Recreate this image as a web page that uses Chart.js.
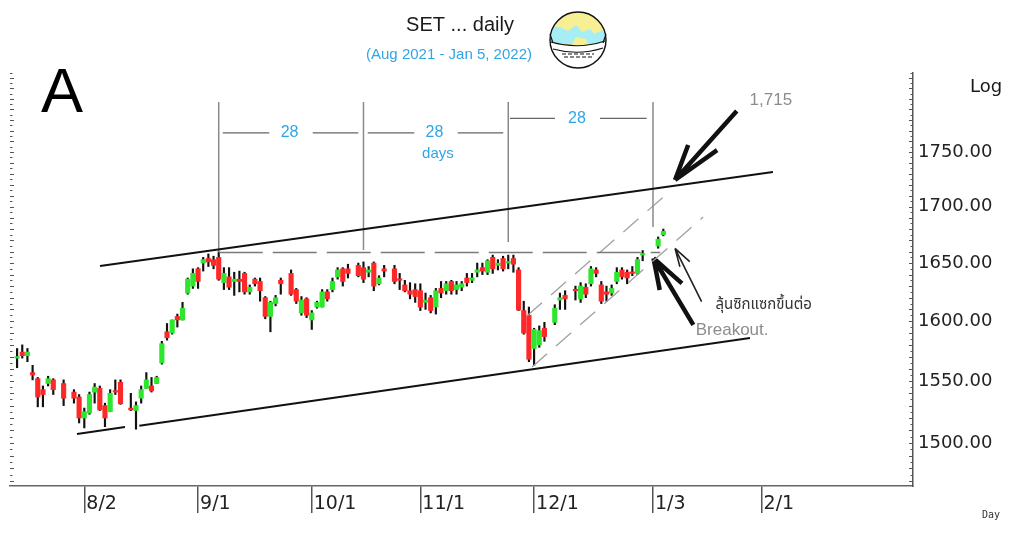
<!DOCTYPE html>
<html><head><meta charset="utf-8">
<script src="https://cdn.jsdelivr.net/npm/chart.js@4.4.1/dist/chart.umd.min.js"></script>
<style>html,body{margin:0;padding:0;background:#fff;}#wrap{width:1024px;height:533px;}</style>
</head><body><div id="wrap"><canvas id="c" width="1024" height="533"></canvas></div>
<script>
// ---------- DATA ----------
const dates = ["2021-07-14","2021-07-15","2021-07-16","2021-07-19","2021-07-20","2021-07-21","2021-07-22","2021-07-23","2021-07-27","2021-07-29","2021-07-30",
"2021-08-02","2021-08-03","2021-08-04","2021-08-05","2021-08-06","2021-08-09","2021-08-10","2021-08-11","2021-08-13","2021-08-16","2021-08-17","2021-08-18","2021-08-19","2021-08-20","2021-08-23","2021-08-24","2021-08-25","2021-08-26","2021-08-27","2021-08-30","2021-08-31",
"2021-09-01","2021-09-02","2021-09-03","2021-09-06","2021-09-07","2021-09-08","2021-09-09","2021-09-10","2021-09-13","2021-09-14","2021-09-15","2021-09-16","2021-09-17","2021-09-20","2021-09-21","2021-09-22","2021-09-23","2021-09-27","2021-09-28","2021-09-29","2021-09-30",
"2021-10-01","2021-10-04","2021-10-05","2021-10-06","2021-10-07","2021-10-08","2021-10-11","2021-10-12","2021-10-14","2021-10-15","2021-10-18","2021-10-19","2021-10-20","2021-10-21","2021-10-25","2021-10-26","2021-10-27","2021-10-28","2021-10-29",
"2021-11-01","2021-11-02","2021-11-03","2021-11-04","2021-11-05","2021-11-08","2021-11-09","2021-11-10","2021-11-11","2021-11-12","2021-11-15","2021-11-16","2021-11-17","2021-11-18","2021-11-19","2021-11-22","2021-11-23","2021-11-24","2021-11-25","2021-11-26","2021-11-29","2021-11-30",
"2021-12-01","2021-12-02","2021-12-03","2021-12-07","2021-12-08","2021-12-09","2021-12-13","2021-12-14","2021-12-15","2021-12-16","2021-12-17","2021-12-20","2021-12-21","2021-12-22","2021-12-23","2021-12-24","2021-12-27","2021-12-28","2021-12-29","2021-12-30",
"2022-01-04","2022-01-05"];
const opens = [1569,1574,1571,1557,1552,1543,1548,1551,1548,1541,1537,
1520,1524,1541,1544,1530,1525,1542,1549,1528,1526,1536,1544,1546,1548,1565,1591,1590,1604,1601,1624,1630,
1645,1650,1654,1653,1655,1633,1638,1634,1636,1641,1625,1636,1634,1620,1604,1615,1635,1641,1627,1607,1619,
1601,1612,1612,1625,1627,1638,1645,1645,1648,1646,1642,1650,1632,1645,1645,1636,1631,1626,1627,
1626,1616,1620,1612,1628,1626,1634,1627,1629,1637,1635,1642,1646,1642,1655,1648,1654,1650,1654,1644,1609,1605,
1577,1580,1594,1599,1618,1622,1627,1619,1629,1632,1644,1631,1625,1624,1634,1644,1642,1642,1641,1657,
1665,1675];
const highs = [1577,1580,1577,1563,1553,1546,1554,1552,1551,1543,1539,
1528,1541,1548,1546,1532,1543,1551,1551,1540,1533,1546,1557,1553,1554,1583,1598,1601,1606,1616,1637,1645,
1646,1655,1658,1656,1660,1646,1646,1642,1643,1642,1631,1637,1637,1621,1617,1622,1637,1644,1628,1621,1620,
1609,1617,1627,1627,1637,1646,1646,1649,1650,1651,1647,1651,1639,1648,1648,1641,1635,1633,1632,
1632,1624,1622,1628,1634,1634,1635,1634,1634,1641,1641,1650,1650,1653,1657,1653,1656,1657,1657,1646,1617,1612,
1594,1596,1599,1614,1624,1626,1630,1633,1632,1647,1646,1634,1630,1631,1646,1646,1644,1647,1655,1661,
1673,1680];
const lows = [1561,1569,1566,1551,1529,1529,1546,1539,1530,1532,1516,
1512,1523,1532,1526,1513,1525,1539,1531,1526,1511,1532,1544,1541,1548,1564,1584,1589,1595,1601,1623,1628,
1628,1643,1647,1645,1635,1627,1627,1622,1625,1623,1623,1630,1617,1602,1591,1613,1623,1622,1615,1605,1603,
1593,1611,1612,1617,1625,1636,1630,1637,1638,1633,1638,1626,1631,1638,1632,1627,1625,1619,1616,
1609,1610,1607,1606,1620,1623,1623,1623,1626,1630,1633,1638,1640,1640,1641,1644,1643,1645,1642,1609,1589,1566,
1563,1578,1583,1597,1610,1610,1618,1616,1620,1630,1638,1615,1617,1622,1632,1636,1632,1639,1640,1652,
1663,1674];
const closes = [1569.6,1571,1574,1555,1537,1539,1552,1543,1536,1536,1520,
1525,1539,1545,1526.5,1520,1540,1541,1531.5,1526.5,1530,1543,1551,1542,1553,1581,1586,1601,1601,1611,1636,1641,
1634,1653,1651,1648,1636,1641,1629,1636,1634,1625,1629,1632,1626,1604,1616,1620,1632,1623,1617,1618,1605,
1607,1616,1625,1619,1634,1644,1634,1641,1639,1636,1644,1630,1637,1643,1634,1635,1626,1623,1621,
1612,1618,1609,1626,1624,1632,1626,1631,1632,1633,1637,1644,1643,1652,1645,1650,1645,1651,1649,1609.5,1590,1568,
1593,1592,1587,1611,1620,1619,1626,1630,1623,1645,1641,1617,1623,1628,1642,1638,1637,1641,1653,1658,
1671,1678];

const tickDates  = ["2021-08-02","2021-09-01","2021-10-01","2021-11-01","2021-12-01","2022-01-03","2022-02-01"];
const tickLabels = ["8/2","9/1","10/1","11/1","12/1","1/3","2/1"];
const yTickValues = [1500,1550,1600,1650,1700,1750];

// annotation geometry in data units: [weekday index, index value]
const upperChannel = [[3.04,1647.4],[133.2,1731.5]];
const lowerChannelA = [[-1.41,1507.2],[7.87,1512.8]];
const lowerChannelB = [[10.64,1513.8],[128.76,1585.8]];
const resistance = [[26,1659.3],[111.4,1659.3]];
const verticals = [[26,1796.9,1660],[54,1796.9,1661.5],[82,1796.9,1668.5],[110,1796.9,1681.8]];
const spanSegments = [[26.77,35.78,1767.9],[44.18,53.0,1767.9],[54.82,63.83,1767.9],[72.22,81.04,1767.9],[82.34,91.04,1781.5],[99.75,108.78,1781.5]];
const risingUpper = [[85.6,1604.4],[112.9,1712.4]];
const risingLower = [[86.6,1561.6],[119.7,1690.7]];
const arrowTarget   = {tail:[126.2,1788.4], tip:[114.26,1724.2], barbs:[[116.8,1756.5],[122.4,1751.8]]};
const arrowBreakout = {tail:[117.8,1596.8], tip:[110.1,1654.2], barbs:[[111.3,1626.6],[115.6,1632.4]]};
const arrowThin     = {tail:[119.4,1616.6], tip:[114.26,1662.9], barbs:[[115.2,1646.8],[117.1,1651.2]]};
const notes = [
  {x:132.8, y:1798.8, text:"1,715", kind:"gray"},
  {x:131.4, y:1612.9, text:"ลุ้นซิกแซกขึ้นต่อ", kind:"thai"},
  {x:125.3, y:1592.5, text:"Breakout.", kind:"gray"},
  {x:39.7, y:1767.9, text:"28", kind:"blue"},
  {x:67.74, y:1767.9, text:"28", kind:"blue"},
  {x:68.4, y:1748.1, text:"days", kind:"blueSmall"},
  {x:95.3, y:1781.5, text:"28", kind:"blue"}
];

// ---------- helpers ----------
function weekdayIndex(s){
  const [Y,M,D] = s.split('-').map(Number);
  const days = Math.round((Date.UTC(Y,M-1,D) - Date.UTC(2021,7,2))/86400000);
  const w = Math.floor(days/7); const r = days - 7*w;
  return w*5 + Math.min(r,5);
}
const xs = dates.map(weekdayIndex);
const tickIdx = tickDates.map(weekdayIndex);
const PX_PER_DAY = 5.17;
const xMin = -74.3/PX_PER_DAY;
const xMax = xMin + 903/PX_PER_DAY;
const yMin = 1466.2, yMax = 1824.8;

const UP = '#2ee62e', DOWN = '#ff2828';
const bodyColors = opens.map((o,i)=> closes[i] >= o ? UP : DOWN);

function pts(arr){ return arr.map(p=>({x:p[0], y:p[1]})); }
function lineDs(data, color, width, dash){
  return {type:'line', data, borderColor:color, borderWidth:width, borderDash:dash||[], pointRadius:0,
          fill:false, spanGaps:false, tension:0, order:1, clip:false, borderCapStyle:'butt'};
}
function segs(list){
  const out=[]; list.forEach((s,i)=>{ if(i) out.push({x:s[0][0], y:null}); out.push({x:s[0][0],y:s[0][1]},{x:s[1][0],y:s[1][1]}); }); return out;
}
function arrowData(a){
  return segs([[a.tail,a.tip],[a.barbs[0],a.tip],[a.tip,a.barbs[1]]]);
}

const datasets = [
  {type:'bar', data: xs.map((x,i)=>({x, y:[lows[i], highs[i]]})), backgroundColor:'#111', barThickness:1.5, grouped:false, order:3, minBarLength:1},
  {type:'bar', data: xs.map((x,i)=>({x, y:[opens[i], closes[i]]})), backgroundColor:bodyColors, barThickness:4.5, grouped:false, order:2, minBarLength:1.5},
  lineDs(pts(upperChannel), '#111', 2),
  lineDs(pts(lowerChannelA), '#111', 2),
  lineDs(pts(lowerChannelB), '#111', 2),
  lineDs(pts(resistance), '#7a7a7a', 1.6, [44,10]),
  lineDs(segs(verticals.map(v=>[[v[0],v[1]],[v[0],v[2]]])), '#8a8a8a', 1.5),
  lineDs(segs(spanSegments.map(s=>[[s[0],s[2]],[s[1],s[2]]])), '#666', 1.3),
  lineDs(pts(risingUpper), '#a0a0a0', 1.3, [20,12]),
  lineDs(pts(risingLower), '#a0a0a0', 1.3, [20,12]),
  lineDs(arrowData(arrowTarget), '#111', 4.5),
  lineDs(arrowData(arrowBreakout), '#111', 4.5),
  lineDs(arrowData(arrowThin), '#222', 1.6)
];

const noteStyles = {
  gray:{font:'17px "Liberation Sans", Arial, sans-serif', color:'#8c8c8c'},
  thai:{font:'15px Tahoma, "Noto Sans Thai", "Noto Sans", sans-serif', color:'#333'},
  blue:{font:'16px "Liberation Sans", Arial, sans-serif', color:'#2ea6e6'},
  blueSmall:{font:'15px "Liberation Sans", Arial, sans-serif', color:'#2ea6e6'}
};

function drawGlobe(ctx, cx, cy, r){
  ctx.save();
  ctx.beginPath(); ctx.arc(cx,cy,r,0,Math.PI*2); ctx.fillStyle='#f7ef93'; ctx.fill();
  ctx.save(); ctx.beginPath(); ctx.arc(cx,cy,r,0,Math.PI*2); ctx.clip();
  ctx.fillStyle='#a6edf5';
  ctx.beginPath();
  ctx.moveTo(cx-r, cy-14); ctx.lineTo(cx-18, cy-13); ctx.lineTo(cx-10, cy-9); ctx.lineTo(cx-2, cy-15);
  ctx.lineTo(cx+4, cy-8); ctx.lineTo(cx+12, cy-11); ctx.lineTo(cx+16, cy-6); ctx.lineTo(cx+24, cy-10); ctx.lineTo(cx+r, cy-6);
  ctx.lineTo(cx+r, cy+4); ctx.lineTo(cx-r, cy+4); ctx.closePath(); ctx.fill();
  ctx.fillStyle='#f7ef93';
  ctx.beginPath(); ctx.moveTo(cx-6,cy+4); ctx.lineTo(cx-2,cy-3); ctx.lineTo(cx+8,cy-1); ctx.lineTo(cx+10,cy+4); ctx.fill();
  ctx.fillStyle='#fff';
  ctx.beginPath(); ctx.moveTo(cx-r, cy+2); ctx.quadraticCurveTo(cx, cy+10, cx+r, cy+1); ctx.lineTo(cx+r, cy+r); ctx.lineTo(cx-r, cy+r); ctx.closePath(); ctx.fill();
  ctx.restore();
  ctx.strokeStyle='#111'; ctx.lineWidth=1.2;
  ctx.beginPath(); ctx.moveTo(cx-r+1, cy+2); ctx.quadraticCurveTo(cx, cy+10, cx+r-1, cy+1); ctx.stroke();
  ctx.beginPath(); ctx.moveTo(cx-r+3, cy+9); ctx.quadraticCurveTo(cx, cy+16, cx+r-3, cy+8); ctx.stroke();
  ctx.setLineDash([4,2]);
  ctx.beginPath(); ctx.moveTo(cx-16, cy+14); ctx.lineTo(cx+16, cy+14); ctx.stroke();
  ctx.beginPath(); ctx.moveTo(cx-14, cy+17); ctx.lineTo(cx+14, cy+17); ctx.stroke();
  ctx.setLineDash([]);
  ctx.beginPath(); ctx.moveTo(cx-r, cy-6); ctx.lineTo(cx-r+3, cy+3); ctx.moveTo(cx+r, cy-6); ctx.lineTo(cx+r-3, cy+3); ctx.stroke();
  ctx.lineWidth=1.4; ctx.beginPath(); ctx.arc(cx,cy,r,0,Math.PI*2); ctx.stroke();
  ctx.restore();
}

const overlay = {
  id:'overlay',
  afterDraw(chart){
    const ctx = chart.ctx, xs_ = chart.scales.x, ys = chart.scales.y, ca = chart.chartArea;
    ctx.save();
    ctx.strokeStyle='#555'; ctx.lineWidth=1;
    for(let v=1470; v<=1825; v+=5){
      const y = Math.round(ys.getPixelForValue(v))+0.5;
      if(y<ca.top||y>ca.bottom) continue;
      const len = (v%10===0)?4:2.5;
      ctx.beginPath(); ctx.moveTo(ca.left, y); ctx.lineTo(ca.left+len, y);
      ctx.moveTo(ca.right-len, y); ctx.lineTo(ca.right, y); ctx.stroke();
    }
    ctx.textAlign='center'; ctx.textBaseline='middle';
    notes.forEach(n=>{
      const st = noteStyles[n.kind]; ctx.font = st.font; ctx.fillStyle = st.color;
      ctx.fillText(n.text, xs_.getPixelForValue(n.x), ys.getPixelForValue(n.y));
    });
    ctx.textBaseline='alphabetic';
    ctx.fillStyle='#1a1a1a'; ctx.font='20px "Liberation Sans", Arial, sans-serif';
    ctx.fillText('SET ... daily', 460, 31);
    ctx.fillStyle='#2ea6e6'; ctx.font='15px "Liberation Sans", Arial, sans-serif';
    ctx.fillText('(Aug 2021 - Jan 5, 2022)', 449, 59);
    ctx.textAlign='left';
    ctx.fillStyle='#000'; ctx.font='63px "Liberation Sans", Arial, sans-serif';
    ctx.fillText('A', 41, 112);
    ctx.fillStyle='#1a1a1a'; ctx.font='18px "DejaVu Sans", sans-serif';
    ctx.fillText('Log', 970, 91.5);
    ctx.fillStyle='#333'; ctx.font='10px "DejaVu Sans Mono", monospace';
    ctx.fillText('Day', 982, 518);
    ctx.restore();
    drawGlobe(ctx, 578, 40, 28);
  }
};

new Chart(document.getElementById('c').getContext('2d'), {
  type:'bar',
  data:{datasets},
  options:{
    responsive:false, animation:false, devicePixelRatio:1,
    layout:{padding:{left:10, top:73, right:0, bottom:0}},
    plugins:{legend:{display:false}, tooltip:{enabled:false}, title:{display:false}},
    scales:{
      x:{type:'linear', min:xMin, max:xMax, offset:false,
         afterBuildTicks:s=>{ s.ticks = tickIdx.map(v=>({value:v})); },
         afterFit:s=>{ s.height = 47; },
         grid:{offset:false, drawOnChartArea:false, drawTicks:true, tickLength:27, color:'#555', lineWidth:1.5},
         border:{display:true, color:'#666', width:1.5},
         ticks:{autoSkip:false, maxRotation:0, minRotation:0, align:'start', padding:-20, labelOffset:2,
                font:{family:'"DejaVu Sans", sans-serif', size:19}, color:'#222',
                callback:(v,i)=>tickLabels[i]}},
      y:{type:'logarithmic', position:'right', min:yMin, max:yMax,
         afterBuildTicks:s=>{ s.ticks = yTickValues.map(v=>({value:v})); },
         afterFit:s=>{ s.width = 111; },
         grid:{drawOnChartArea:false, drawTicks:false},
         border:{display:true, color:'#555', width:1.5},
         ticks:{autoSkip:false, padding:5, font:{family:'"DejaVu Sans", sans-serif', size:18}, color:'#222',
                callback:v=>Number(v).toFixed(2)}}
    }
  },
  plugins:[overlay]
});
</script></body></html>
